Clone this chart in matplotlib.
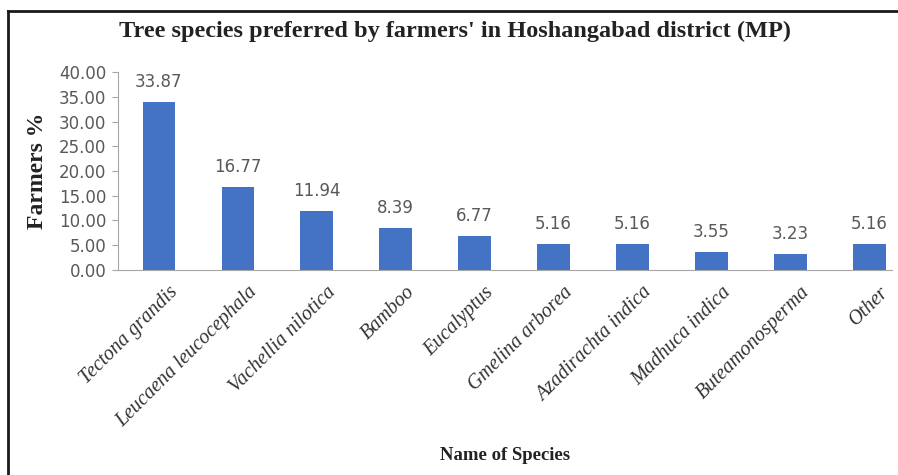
import matplotlib.pyplot as plt
import matplotlib.transforms as mtransforms
from matplotlib.lines import Line2D

species = ["Tectona grandis", "Leucaena leucocephala", "Vachellia nilotica",
           "Bamboo", "Eucalyptus", "Gmelina arborea", "Azadirachta indica",
           "Madhuca indica", "Buteamonosperma", "Other"]
farmers_pct = [33.87, 16.77, 11.94, 8.39, 6.77, 5.16, 5.16, 3.55, 3.23, 5.16]
yticks = [0, 5, 10, 15, 20, 25, 30, 35, 40]

bar_color = "#4472C4"
grey = "#595959"

fig = plt.figure(figsize=(8.98, 4.75), dpi=100)
ax = fig.add_axes([0.131, 0.432, 0.862, 0.416])

x = range(len(species))
bars = ax.bar(x, farmers_pct, width=0.41, color=bar_color)

# value labels above each bar
for xi, v in zip(x, farmers_pct):
    ax.annotate(f"{v:.2f}", (xi, v), xytext=(0, 8), textcoords="offset points",
                ha="center", va="bottom", fontsize=12, color=grey,
                family="DejaVu Sans")

ax.set_xlim(-0.52, 9.28)
ax.set_ylim(0, 40)
ax.set_yticks(yticks)
ax.set_yticklabels([f"{t:.2f}" for t in yticks], fontsize=12, color=grey,
                   family="DejaVu Sans")
ax.set_xticks(list(x))
ax.set_xticklabels(species, rotation=45, ha="right", rotation_mode="anchor",
                   fontsize=14.5, style="italic", family="Liberation Serif",
                   color="#333333")
ax.tick_params(axis="x", length=0, pad=8)
ax.tick_params(axis="y", length=4, color="#A6A6A6", pad=4)

# nudge the slanted names a little to the right
shift = mtransforms.ScaledTranslation(0.10, -0.02, fig.dpi_scale_trans)
for lbl in ax.get_xticklabels():
    lbl.set_transform(lbl.get_transform() + shift)

for s in ["top", "right"]:
    ax.spines[s].set_visible(False)
ax.spines["left"].set_color("#A6A6A6")
ax.spines["bottom"].set_color("#A6A6A6")

ax.set_ylabel("Farmers %", fontsize=17, fontweight="bold",
              family="Liberation Serif", color="#222222", labelpad=8)

fig.text(0.507, 0.933, "Tree species preferred by farmers' in Hoshangabad district (MP)",
         ha="center", va="center", fontsize=17.5, fontweight="bold",
         family="Liberation Serif", color="#222222")
fig.text(0.562, 0.042, "Name of Species", ha="center", va="center",
         fontsize=13.5, fontweight="bold", family="Liberation Serif", color="#222222")

# frame lines along the top and left edge
fig.add_artist(Line2D([8 / 898, 8 / 898], [0, 1 - 11 / 475], color="#1a1a1a",
                      linewidth=2, transform=fig.transFigure))
fig.add_artist(Line2D([8 / 898, 1], [1 - 11 / 475, 1 - 11 / 475], color="#1a1a1a",
                      linewidth=2, transform=fig.transFigure))

fig.savefig("out.png", dpi=100)
